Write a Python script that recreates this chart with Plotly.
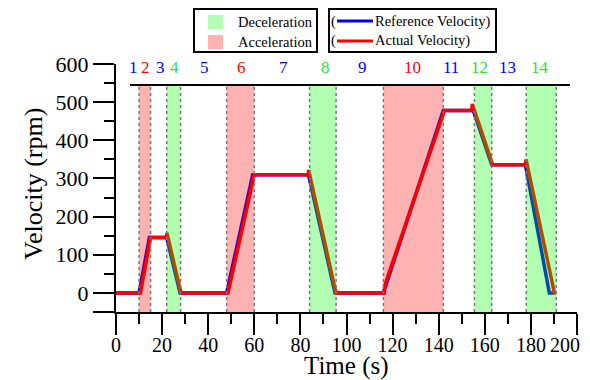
import plotly.graph_objects as go

# ---------------- data ----------------
ref_t = [0, 10, 14.5, 22, 27.8, 48, 59.3, 83.5, 95, 116, 142, 155, 163, 177.6, 188, 190]
ref_v = [0, 0, 145, 145, 0, 0, 310, 310, 0, 0, 478, 478, 336, 336, 0, 0]

act_t = [0, 10.6, 15, 21.8, 22.1, 28.2, 48.6, 60, 83.3, 83.6, 95.4, 116.4, 116.6,
         142.5, 154.3, 154.6, 163.4, 177.6, 177.9, 190.2, 191]
act_v = [0, 0, 145, 145, 157, 0, 0, 310, 310, 322, 0, 0, 20,
         478, 478, 495, 336, 336, 350, 0, 0]

phase_ids = [str(i) for i in range(1, 15)]
phase_type = ["c", "a", "c", "d", "c", "a", "c", "d", "c", "a", "c", "d", "c", "d"]
phase_start = [0, 10, 15, 22, 28, 48, 60, 84, 95, 116, 142, 155.5, 163, 178]
phase_end = [10, 15, 22, 28, 48, 60, 84, 95.5, 116, 142, 155.5, 163, 178, 191]
label_x = [7.4, 12.6, 19.5, 25.2, 38.6, 54.3, 72.5, 90.8, 107, 128.5, 145.5, 157.6, 170, 184]

x_major = [0, 20, 40, 60, 80, 100, 120, 140, 160, 180, 200]
x_major_text = ["0", "20", "40", "60", "80", "100", "120", "140", "160", "180", ""]
y_major = [-50, 0, 100, 200, 300, 400, 500, 600]
y_major_text = ["", "0", "100", "200", "300", "400", "500", "600"]

# ---------------- layout helpers ----------------
OFF = 8  # page body margin
W, H = 590 - OFF, 380 - OFF
PL, PR, PT, PB = 116, 577, 64, 312  # plot area in page pixels
ML, MR, MT, MB = PL - OFF, OFF + W - PR, PT - OFF, OFF + H - PB
PW, PH = PR - PL, PB - PT


def px(x):
    return (x - PL) / PW


def py(y):
    return (PB - y) / PH


FONT = "Liberation Serif"
TOP_LINE = 545
type_color = {"a": "#ff0000", "d": "#00ff00"}
label_color = {"a": "#ff0000", "d": "#33dd33", "c": "#0000ff"}

fig = go.Figure()
fig.add_trace(go.Scatter(x=ref_t, y=ref_v, mode="lines",
                         line=dict(color="#0000ff", width=3.5),
                         name="Reference Velocity", showlegend=False, hoverinfo="skip"))
fig.add_trace(go.Scatter(x=act_t, y=act_v, mode="lines",
                         line=dict(color="#ff0000", width=3.5),
                         name="Actual Velocity", showlegend=False, hoverinfo="skip"))

shapes = []
for typ, s, e in zip(phase_type, phase_start, phase_end):
    if typ in type_color:
        shapes.append(dict(type="rect", xref="x", yref="y", x0=s, x1=e, y0=-50, y1=TOP_LINE,
                           fillcolor=type_color[typ], opacity=0.3, line=dict(width=0),
                           layer="above"))
        for xv in (s, e):
            shapes.append(dict(type="line", xref="x", yref="y", x0=xv, x1=xv, y0=-50, y1=TOP_LINE,
                               line=dict(color="#777777", width=1.5, dash="dot"), layer="above"))

# top separator line
shapes.append(dict(type="line", xref="paper", yref="y", x0=px(130), x1=px(570),
                   y0=TOP_LINE, y1=TOP_LINE, line=dict(color="black", width=2)))

# legend boxes
shapes.append(dict(type="rect", xref="paper", yref="paper", x0=px(194), x1=px(317),
                   y0=py(52), y1=py(9), line=dict(color="black", width=2), fillcolor="white"))
shapes.append(dict(type="rect", xref="paper", yref="paper", x0=px(329), x1=px(496),
                   y0=py(52), y1=py(9), line=dict(color="black", width=2), fillcolor="white"))
shapes.append(dict(type="rect", xref="paper", yref="paper", x0=px(208), x1=px(223),
                   y0=py(29), y1=py(15), fillcolor="#00ff00", opacity=0.3, line=dict(width=0)))
shapes.append(dict(type="rect", xref="paper", yref="paper", x0=px(208), x1=px(223),
                   y0=py(49), y1=py(35), fillcolor="#ff0000", opacity=0.3, line=dict(width=0)))
shapes.append(dict(type="line", xref="paper", yref="paper", x0=px(337), x1=px(373),
                   y0=py(21), y1=py(21), line=dict(color="#0000ff", width=3)))
shapes.append(dict(type="line", xref="paper", yref="paper", x0=px(337), x1=px(373),
                   y0=py(41), y1=py(41), line=dict(color="#ff0000", width=3)))

annotations = []
for lab, typ, lx in zip(phase_ids, phase_type, label_x):
    annotations.append(dict(x=lx, y=590, xref="x", yref="y", text=lab, showarrow=False,
                            font=dict(family=FONT, size=17, color=label_color[typ]),
                            xanchor="center", yanchor="middle"))

leg_font = dict(family=FONT, size=14.5, color="black")
for txt, x, y in [("Deceleration", 236, 22), ("Acceleration", 236, 42),
                  ("(", 329, 21), ("(", 329, 41),
                  ("Reference Velocity)", 373, 21), ("Actual Velocity)", 373, 41)]:
    annotations.append(dict(x=px(x), y=py(y), xref="paper", yref="paper", text=txt,
                            showarrow=False, font=leg_font, xanchor="left", yanchor="middle"))

# last x tick label, nudged inside the visible edge
annotations.append(dict(x=px(582), y=py(345), xref="paper", yref="paper", text="200",
                        showarrow=False, font=dict(family=FONT, size=20, color="black"),
                        xanchor="right", yanchor="middle"))

# axis titles
annotations.append(dict(x=px(346), y=py(366), xref="paper", yref="paper", text="Time (s)",
                        showarrow=False, font=dict(family=FONT, size=25, color="black"),
                        xanchor="center", yanchor="middle"))
annotations.append(dict(x=px(33), y=py(184), xref="paper", yref="paper", text="Velocity (rpm)",
                        showarrow=False, textangle=-90,
                        font=dict(family=FONT, size=26, color="black"),
                        xanchor="center", yanchor="middle"))

fig.update_layout(
    width=W, height=H,
    margin=dict(l=ML, r=MR, t=MT, b=MB, autoexpand=False),
    paper_bgcolor="white", plot_bgcolor="white",
    font=dict(family=FONT, color="black"),
    shapes=shapes, annotations=annotations,
    showlegend=False,
)
fig.update_xaxes(range=[0, 200], tickmode="array", tickvals=x_major, ticktext=x_major_text,
                 ticks="outside", ticklen=21, tickwidth=1.5, tickcolor="black",
                 showline=True, linecolor="black", linewidth=2, showgrid=False, zeroline=False,
                 tickfont=dict(family=FONT, size=20, color="black"),
                 ticklabeloverflow="allow", ticklabelstandoff=-7,
                 minor=dict(tickmode="linear", tick0=0, dtick=10, ticks="outside", ticklen=10,
                            tickwidth=1.5, tickcolor="black", showgrid=False))
fig.update_yaxes(range=[-50, 600], tickmode="array", tickvals=y_major, ticktext=y_major_text,
                 ticks="outside", ticklen=21, tickwidth=1.5, tickcolor="black",
                 showline=True, linecolor="black", linewidth=2, showgrid=False, zeroline=False,
                 tickfont=dict(family=FONT, size=22, color="black"),
                 minor=dict(tickmode="linear", tick0=-50, dtick=50, ticks="outside", ticklen=10,
                            tickwidth=1.5, tickcolor="black", showgrid=False))

fig.write_html("out.html")
